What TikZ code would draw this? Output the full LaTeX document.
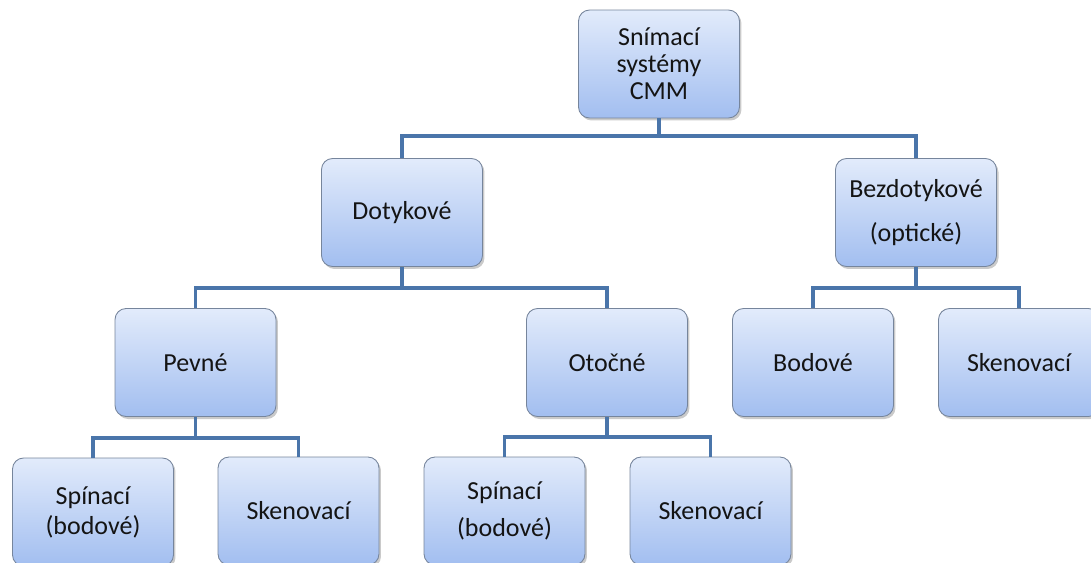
\documentclass[tikz,border=0pt]{standalone}
\usepackage{fontspec}
\setmainfont{Carlito}
\usetikzlibrary{shadows}
\definecolor{boxtop}{HTML}{E2EBFB}
\definecolor{boxbot}{HTML}{A2BEF0}
\definecolor{boxline}{HTML}{76859C}
\definecolor{conn}{HTML}{4A75AA}
\begin{document}
\begin{tikzpicture}[x=0.02cm,y=-0.02cm,
  cbox/.style={draw=boxline,line width=0.5pt,rounded corners=0.22cm,
    top color=boxtop,bottom color=boxbot,
    minimum width=3.22cm,minimum height=2.16cm,inner sep=0pt,
    align=center,text=black!92,
    font=\fontsize{14.8}{19}\selectfont,
    drop shadow={shadow xshift=0.04cm,shadow yshift=-0.05cm,opacity=0.35,fill=black!60}},
  link/.style={draw=conn,line width=1.8pt}]
\useasboundingbox (0,0) rectangle (1091,562);
\clip (0,0) rectangle (1091,562);
\node[cbox,font=\fontsize{14.8}{15.3pt}\selectfont] (root) at (659,64) {Snímací\\systémy\\CMM};
\node[cbox] (dot) at (402,212.5) {Dotykové};
\node[cbox,font=\fontsize{14.8}{25pt}\selectfont] (bez) at (916,212.5) {Bezdotykové\\(optické)};
\node[cbox] (pev) at (195.5,362.5) {Pevné};
\node[cbox] (oto) at (607,362.5) {Otočné};
\node[cbox] (bod) at (813,362.5) {Bodové};
\node[cbox] (sk1) at (1019,362.5) {Skenovací};
\node[cbox,font=\fontsize{14.8}{17pt}\selectfont] (sp1) at (93,512) {Spínací\\(bodové)};
\node[cbox] (sk2) at (298.5,511) {Skenovací};
\node[cbox,font=\fontsize{14.8}{21pt}\selectfont] (sp2) at (504.5,511) {Spínací\\(bodové)};
\node[cbox] (sk3) at (710.5,511) {Skenovací};
% connectors
\draw[link] (root.south) -- (root.south |- 0,136) -| (dot.north);
\draw[link] (root.south |- 0,136) -| (bez.north);
\draw[link] (dot.south) -- (dot.south |- 0,288) -| (pev.north);
\draw[link] (dot.south |- 0,288) -| (oto.north);
\draw[link] (bez.south) -- (bez.south |- 0,288) -| (bod.north);
\draw[link] (bez.south |- 0,288) -| (sk1.north);
\draw[link] (pev.south) -- (pev.south |- 0,438) -| (sp1.north);
\draw[link] (pev.south |- 0,438) -| (sk2.north);
\draw[link] (oto.south) -- (oto.south |- 0,437) -| (sp2.north);
\draw[link] (oto.south |- 0,437) -| (sk3.north);
\end{tikzpicture}
\end{document}
